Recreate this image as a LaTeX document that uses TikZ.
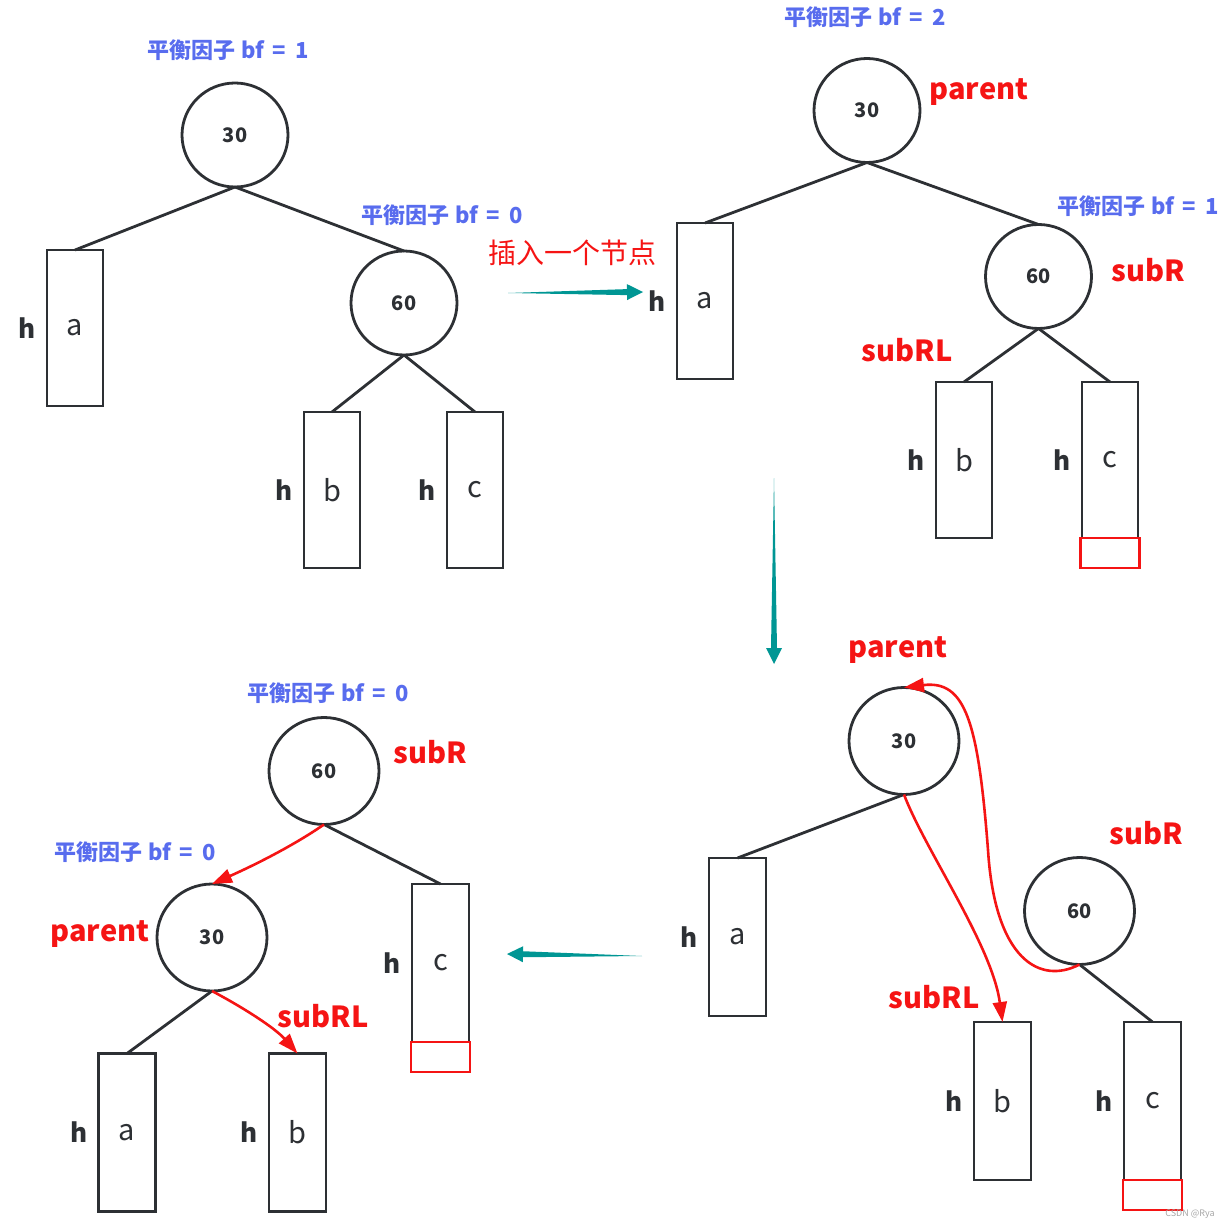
\documentclass[tikz,border=0pt]{standalone}
\usepackage{fontspec}
\setmainfont{Noto Sans CJK SC}
\usepackage{tikz}
\usetikzlibrary{shapes, arrows.meta, positioning, calc}
\definecolor{linegray}{RGB}{45,48,52}
\definecolor{bfblue}{RGB}{88,108,238}
\definecolor{insred}{RGB}{245,20,20}
\definecolor{turnteal}{RGB}{0,150,148}
\newcommand{\numfont}{\fontsize{20pt}{24pt}\selectfont\bfseries}
\newcommand{\boxfont}{\fontsize{29pt}{33pt}\selectfont}
\newcommand{\hfont}{\fontsize{26pt}{30pt}\selectfont\bfseries}
\newcommand{\bffont}{\fontsize{22pt}{26pt}\selectfont\bfseries}
\newcommand{\ptrfont}{\fontsize{29pt}{33pt}\selectfont\bfseries}
\newcommand{\bfactor}[1]{平衡因子\hspace{6pt}bf\hspace{8pt}=\hspace{9pt}#1}
\tikzstyle{tnode} = [draw=linegray, line width=2.8pt, ellipse, minimum width=106pt, minimum height=104pt, inner sep=0pt, outer sep=0pt, font=\numfont, text=linegray]
\tikzstyle{bigtnode} = [tnode, minimum width=110pt, minimum height=107pt]
\tikzstyle{block} = [draw=linegray, line width=2.8pt, rectangle, minimum width=56pt, minimum height=156pt, outer sep=0pt, font=\boxfont, text=linegray]
\tikzstyle{bigblock} = [block, minimum width=57pt, minimum height=158pt]
\tikzstyle{newblock} = [draw=insred, line width=2.2pt, rectangle, minimum width=59pt, minimum height=30pt, outer sep=0pt, anchor=north]
\tikzstyle{hlab} = [font=\hfont, text=linegray, inner sep=0pt]
\tikzstyle{bflab} = [font=\bffont, text=bfblue, inner sep=0pt]
\tikzstyle{ptr} = [font=\ptrfont, text=insred, inner sep=0pt]
\tikzstyle{edge} = [draw=linegray, line width=2.8pt]
\tikzstyle{redge} = [draw=insred, line width=2.6pt, -{Triangle[length=20pt,width=14pt]}]
\tikzstyle{turn} = [fill=turnteal, draw=none, to path={
  -- ($($(\tikztotarget)!16pt!(\tikztostart)$)!3pt!90:(\tikztotarget)$)
  -- ($($(\tikztotarget)!16pt!(\tikztostart)$)!8pt!90:(\tikztotarget)$)
  -- (\tikztotarget)
  -- ($($(\tikztotarget)!16pt!(\tikztostart)$)!8pt!-90:(\tikztotarget)$)
  -- ($($(\tikztotarget)!16pt!(\tikztostart)$)!3pt!-90:(\tikztotarget)$)
  -- cycle}]

\begin{document}
\begin{tikzpicture}[x=1pt, y=-1pt]
  \useasboundingbox (0,0) rectangle (1232,1230);

  \node[bflab] (bfthirty1) at (228,50) {\bfactor{1}};
  \node[tnode] (thirty1) at (235,135) {30};
  \node[tnode] (sixty1) at (404,303) {60};
  \node[bflab] (bfsixty1) at (442,215) {\bfactor{0}};
  \node[block] (a1) at (75,328) {a};
  \node[block] (b1) at (332,490) {b};
  \node[block] (c1) at (475,490) {c};
  \node[hlab, left=11pt of a1] (ha1) {h};
  \node[hlab, left=11pt of b1] (hb1) {h};
  \node[hlab, left=11pt of c1] (hc1) {h};
  \draw[edge] (thirty1.south) -- (a1.north);
  \draw[edge] (thirty1.south) -- (sixty1.north);
  \draw[edge] (sixty1.south) -- (b1.north);
  \draw[edge] (sixty1.south) -- (c1.north);

  \node[font=\fontsize{28pt}{32pt}\selectfont, text=insred, inner sep=0pt] (insert) at (572,253) {插入一个节点};
  \coordinate (ins1) at (508,293);
  \coordinate (ins2) at (643,292);
  \path[turn] (ins1) to (ins2);

  \node[bflab] (bfthirty2) at (865,17) {\bfactor{2}};
  \node[tnode] (thirty2) at (867,110.5) {30};
  \node[ptr] (lparent2) at (979,92) {parent};
  \node[tnode] (sixty2) at (1038.5,276.5) {60};
  \node[bflab] (bfsixty2) at (1138,206) {\bfactor{1}};
  \node[ptr] (lsubr2) at (1148,270) {subR};
  \node[ptr] (lsubrl2) at (907,350) {subRL};
  \node[block] (a2) at (705,301) {a};
  \node[block] (b2) at (964,460) {b};
  \node[block] (c2) at (1110,460) {c};
  \node[newblock] (new2) at (c2.south) {};
  \node[hlab, left=11pt of a2] (ha2) {h};
  \node[hlab, left=11pt of b2] (hb2) {h};
  \node[hlab, left=11pt of c2] (hc2) {h};
  \draw[edge] (thirty2.south) -- (a2.north);
  \draw[edge] (thirty2.south) -- (sixty2.north);
  \draw[edge] (sixty2.south) -- (b2.north);
  \draw[edge] (sixty2.south) -- (c2.north);

  \coordinate (dn1) at (774,478);
  \coordinate (dn2) at (774,664);
  \path[turn] (dn1) to (dn2);

  \node[ptr] (lparent3) at (898,650) {parent};
  \node[bigtnode] (thirty3) at (904,741) {30};
  \node[ptr] (lsubr3) at (1146,833) {subR};
  \node[bigtnode] (sixty3) at (1079.5,911) {60};
  \node[ptr] (lsubrl3) at (934,997) {subRL};
  \node[bigblock] (a3) at (737.5,937) {a};
  \node[bigblock] (b3) at (1002.5,1101) {b};
  \node[bigblock] (c3) at (1152.5,1101) {c};
  \node[newblock] (new3) at (c3.south) {};
  \node[hlab, left=11pt of a3] (ha3) {h};
  \node[hlab, left=11pt of b3] (hb3) {h};
  \node[hlab, left=11pt of c3] (hc3) {h};
  \draw[edge] (thirty3.south) -- (a3.north);
  \draw[edge] (sixty3.south) -- (c3.north);
  \draw[redge] (thirty3.south) .. controls (925,850) and (992,945) .. (b3.north);
  \coordinate (bend3) at (988,850);
  \draw[redge] (sixty3.south) .. controls (1040,985) and (995,960) .. (bend3)
    .. controls (978,720) and (965,680) .. (thirty3.north);

  \coordinate (bk1) at (642,956);
  \coordinate (bk2) at (507,954);
  \path[turn] (bk1) to (bk2);

  \node[bflab] (bfsixty4) at (328,693) {\bfactor{0}};
  \node[bigtnode] (sixty4) at (324,771) {60};
  \node[ptr] (lsubr4) at (430,752) {subR};
  \node[bflab] (bfthirty4) at (135,852) {\bfactor{0}};
  \node[bigtnode] (thirty4) at (212,937.5) {30};
  \node[ptr] (lparent4) at (100,934) {parent};
  \node[ptr] (lsubrl4) at (323,1016) {subRL};
  \node[bigblock] (c4) at (440.5,963) {c};
  \node[newblock] (new4) at (c4.south) {};
  \node[bigblock] (a4) at (127,1132.5) {a};
  \node[bigblock] (b4) at (297.5,1132.5) {b};
  \node[hlab, left=11pt of c4] (hc4) {h};
  \node[hlab, left=11pt of a4] (ha4) {h};
  \node[hlab, left=11pt of b4] (hb4) {h};
  \draw[edge] (sixty4.south) -- (c4.north);
  \draw[edge] (thirty4.south) -- (a4.north);
  \draw[redge] (sixty4.south) .. controls (290,848) and (248,868) .. (thirty4.north);
  \draw[redge] (thirty4.south) .. controls (244,1008) and (275,1028) .. (b4.north);

  \node[font=\fontsize{9pt}{10pt}\selectfont, text=gray!70, inner sep=0pt] (mark) at (1190,1214) {CSDN @Rya};
\end{tikzpicture}
\end{document}
